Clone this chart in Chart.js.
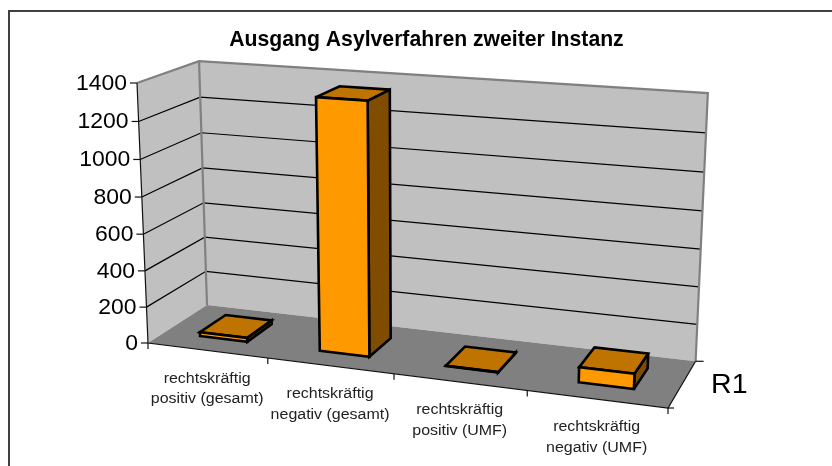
<!DOCTYPE html>
<html><head><meta charset="utf-8">
<style>html,body{margin:0;padding:0;background:#fff}canvas{display:block}</style>
<script src="https://cdn.jsdelivr.net/npm/chart.js@4"></script></head>
<body><canvas id="c" width="832" height="466"></canvas>
<script>
const chartTitle = 'Ausgang Asylverfahren zweiter Instanz';
const categories = [['rechtskräftig','positiv (gesamt)'],['rechtskräftig','negativ (gesamt)'],['rechtskräftig','positiv (UMF)'],['rechtskräftig','negativ (UMF)']];
const seriesName = 'R1';
const seriesValues = [22, 1350, 2, 80];
const yMax = 1400, yStep = 200;

// perspective camera fitted to the plot box: unit cube (u across, v up, d into the page)
const O=[148,343], U=[668,408], V=[137,83], D=[207,305];
const wu=0.898, wv=0.96, wd=1.07;
const depthFront=0.28, depthBack=0.73;
function proj(u,v,d){
  const w=1+(wu-1)*u+(wv-1)*v+(wd-1)*d;
  const f=i=>O[i]+u*(U[i]*wu-O[i])+v*(V[i]*wv-O[i])+d*(D[i]*wd-O[i]);
  return [f(0)/w,f(1)/w];
}
function poly(ctx,pts,fill,stroke,lw){
  ctx.beginPath();pts.forEach((p,i)=>i?ctx.lineTo(p[0],p[1]):ctx.moveTo(p[0],p[1]));
  if(fill){ctx.closePath();ctx.fillStyle=fill;ctx.fill();}
  if(stroke){ctx.strokeStyle=stroke;ctx.lineWidth=lw;ctx.stroke();}
}
function shade(hex,k){const n=parseInt(hex.slice(1),16);
  return 'rgb('+[(n>>16)&255,(n>>8)&255,n&255].map(c=>Math.round(c*k)).join(',')+')';}
function text(ctx,s,x,y,size,align,sx,weight,color){
  ctx.save();ctx.translate(x,y);ctx.scale(sx,1);
  ctx.font=(weight||'normal')+' '+size+'px "Liberation Sans"';
  ctx.textAlign=align;ctx.textBaseline='middle';ctx.fillStyle=color||'#000';
  ctx.fillText(s,0,0);ctx.restore();
}
let area=null;
const norm=(x,y)=>[(x-area.left)/(area.right-area.left),(area.bottom-y)/(area.bottom-area.top)];
// bars are the library's own elements, shown as perspective boxes
Chart.BarElement.prototype.draw=function(ctx){
  const o=this.options,[u0,v1]=norm(this.x-this.width/2,this.y),[u1,v0]=norm(this.x+this.width/2,this.base);
  const a=depthFront,b=depthBack;
  ctx.save();ctx.lineJoin='miter';ctx.miterLimit=3;
  const lw=o.borderWidth;
  poly(ctx,[proj(u1,v0,a),proj(u1,v0,b),proj(u1,v1,b),proj(u1,v1,a)],shade(o.backgroundColor,0.5),'#000',lw);
  poly(ctx,[proj(u0,v1,a),proj(u1,v1,a),proj(u1,v1,b),proj(u0,v1,b)],shade(o.backgroundColor,0.75),'#000',lw);
  poly(ctx,[proj(u0,v0,a),proj(u1,v0,a),proj(u1,v1,a),proj(u0,v1,a)],o.backgroundColor,'#000',lw);
  ctx.restore();
};
const scene={id:'scene',
  beforeDatasetsDraw(chart){
    const ctx=chart.ctx,y=chart.scales.y;area=chart.chartArea;
    ctx.save();
    // frame
    poly(ctx,[[9,466],[9,11],[832,11]],null,'#404040',2);
    // walls & floor
    poly(ctx,[proj(0,0,0),proj(0,1,0),proj(0,1,1),proj(0,0,1)],'#c0c0c0');
    poly(ctx,[proj(0,0,1),proj(0,1,1),proj(1,1,1),proj(1,0,1)],'#c0c0c0');
    poly(ctx,[proj(0,0,0),proj(1,0,0),proj(1,0,1),proj(0,0,1)],'#808080');
    // gridlines
    y.ticks.forEach(t=>{const v=norm(0,y.getPixelForValue(t.value))[1];
      if(t.value>0&&t.value<yMax) poly(ctx,[proj(0,v,0),proj(0,v,1),proj(1,v,1)],null,'#000',1.2);
    });
    // wall outlines
    poly(ctx,[proj(0,1,0),proj(0,1,1),proj(1,1,1),proj(1,0,1)],null,'#808080',2.2);
    poly(ctx,[proj(0,1,1),proj(0,0,1)],null,'#808080',2.2);
    // axes
    poly(ctx,[proj(0,1,0),proj(0,0,0),proj(1,0,0),proj(1,0,1)],null,'#111',1.2);
    y.ticks.forEach(t=>{const v=norm(0,y.getPixelForValue(t.value))[1],p=proj(0,v,0);
      poly(ctx,[p,[p[0]-7,p[1]]],null,'#111',1.2);
      text(ctx,String(t.value),p[0]-10,p[1]+0.5,22.5,'right',1.02);
    });
    categories.forEach((c,i)=>{
      const x=chart.scales.x,half=(x.getPixelForValue(1)-x.getPixelForValue(0))/2;
      const u=norm(x.getPixelForValue(i),0)[0],ue=norm(x.getPixelForValue(i)-half,0)[0];
      const t=proj(ue,0,0);poly(ctx,[t,[t[0],t[1]+6]],null,'#111',1.2);
      const p=proj(u,0,0);
      c.forEach((s,k)=>text(ctx,s,p[0],p[1]+28+k*20.7,15.5,'center',1.03,null,'#222'));
    });
    const e=proj(1,0,0),f=proj(1,0,1);
    poly(ctx,[e,[e[0],e[1]+6]],null,'#111',1.2);poly(ctx,[e,[e[0]+6,e[1]]],null,'#111',1.2);
    poly(ctx,[f,[f[0]+8,f[1]]],null,'#111',1.2);
    text(ctx,seriesName,711,385,28,'left',1.02);
    ctx.restore();
  }
};
new Chart(document.getElementById('c'),{
  type:'bar',
  data:{labels:categories,datasets:[{label:seriesName,data:seriesValues,backgroundColor:'#ff9900',borderColor:'#000',borderWidth:2.6,categoryPercentage:0.4,barPercentage:1}]},
  options:{responsive:false,animation:false,
    layout:{padding:{left:21,top:27}},
    plugins:{legend:{display:false},tooltip:{enabled:false},
      title:{display:true,text:chartTitle,color:'#000',font:{family:'"Liberation Sans"',size:21.2,weight:'bold'},padding:0}},
    scales:{x:{display:false},y:{display:false,min:0,max:yMax,ticks:{stepSize:yStep}}}
  },
  plugins:[scene]
});
</script></body></html>
